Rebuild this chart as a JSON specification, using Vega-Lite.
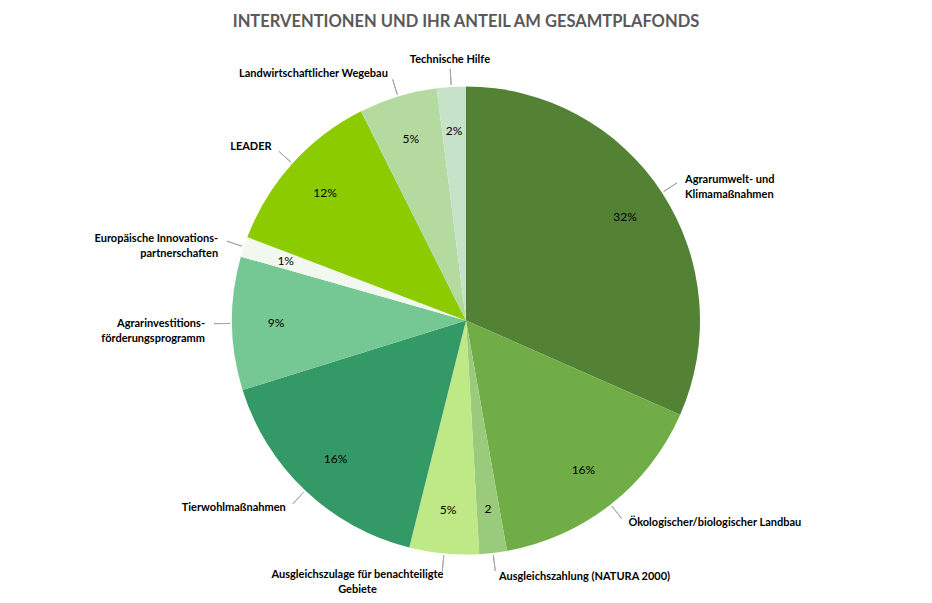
{
  "$schema": "https://vega.github.io/schema/vega-lite/v6.json",
  "width": 932,
  "height": 603,
  "autosize": {"type": "fit", "contains": "padding"},
  "padding": {"top": 13, "bottom": 0, "left": 0, "right": 0},
  "background": "white",
  "title": {
    "text": "INTERVENTIONEN UND IHR ANTEIL AM GESAMTPLAFONDS",
    "font": "Lato",
    "fontSize": 16.5,
    "fontWeight": "bold",
    "color": "#595959",
    "anchor": "middle",
    "offset": 8
  },
  "data": {
    "values": [
      {"Nr": 1, "Intervention": "Agrarumwelt- und Klimamaßnahmen", "Name": "Agrarumwelt- und\nKlimamaßnahmen", "Anteil": 31.6, "Label": "32%"},
      {"Nr": 2, "Intervention": "Ökologischer/biologischer Landbau", "Name": "Ökologischer/biologischer Landbau", "Anteil": 15.6, "Label": "16%"},
      {"Nr": 3, "Intervention": "Ausgleichszahlung (NATURA 2000)", "Name": "Ausgleichszahlung  (NATURA 2000)", "Anteil": 1.9, "Label": "2"},
      {"Nr": 4, "Intervention": "Ausgleichszulage für benachteiligte Gebiete", "Name": "Ausgleichszulage für benachteiligte\nGebiete", "Anteil": 4.8, "Label": "5%"},
      {"Nr": 5, "Intervention": "Tierwohlmaßnahmen", "Name": "Tierwohlmaßnahmen", "Anteil": 16.3, "Label": "16%"},
      {"Nr": 6, "Intervention": "Agrarinvestitionsförderungsprogramm", "Name": "Agrarinvestitions-\nförderungsprogramm", "Anteil": 9.2, "Label": "9%"},
      {"Nr": 7, "Intervention": "Europäische Innovationspartnerschaften", "Name": "Europäische Innovations-\npartnerschaften", "Anteil": 1.4, "Label": "1%"},
      {"Nr": 8, "Intervention": "LEADER", "Name": "LEADER", "Anteil": 11.8, "Label": "12%"},
      {"Nr": 9, "Intervention": "Landwirtschaftlicher Wegebau", "Name": "Landwirtschaftlicher Wegebau", "Anteil": 5.4, "Label": "5%"},
      {"Nr": 10, "Intervention": "Technische Hilfe", "Name": "Technische Hilfe", "Anteil": 2.0, "Label": "2%"}
    ]
  },
  "encoding": {
    "theta": {"field": "Anteil", "type": "quantitative", "stack": true},
    "order": {"field": "Nr", "type": "quantitative"}
  },
  "layer": [
    {
      "mark": {"type": "arc", "outerRadius": 234},
      "encoding": {
        "color": {
          "field": "Intervention",
          "type": "nominal",
          "legend": null,
          "scale": {
            "domain": [
              "Agrarumwelt- und Klimamaßnahmen",
              "Ökologischer/biologischer Landbau",
              "Ausgleichszahlung (NATURA 2000)",
              "Ausgleichszulage für benachteiligte Gebiete",
              "Tierwohlmaßnahmen",
              "Agrarinvestitionsförderungsprogramm",
              "Europäische Innovationspartnerschaften",
              "LEADER",
              "Landwirtschaftlicher Wegebau",
              "Technische Hilfe"
            ],
            "range": [
              "#548235",
              "#70ad47",
              "#9acb7c",
              "#bfe886",
              "#339966",
              "#75c794",
              "#f2f8f0",
              "#8bcb00",
              "#b5daa0",
              "#c6e2c8"
            ]
          }
        }
      }
    },
    {
      "mark": {
        "type": "arc",
        "innerRadius": 236,
        "outerRadius": 252,
        "padAngle": 1.4,
        "filled": false,
        "stroke": "#a6a6a6",
        "strokeWidth": 1
      },
      "encoding": {"detail": {"field": "Intervention", "type": "nominal"}}
    },
    {
      "mark": {"type": "text", "radius": 190, "font": "Lato", "fontSize": 12, "color": "#000000"},
      "encoding": {
        "detail": {"field": "Intervention", "type": "nominal"},
        "text": {"field": "Label", "type": "nominal"}
      }
    },
    {
      "mark": {"type": "text", "radius": 258, "align": "left", "baseline": "middle", "dx": 3, "lineBreak": "\n", "lineHeight": 15, "font": "Lato", "fontSize": 11, "fontWeight": "bold", "color": "#000000"},
      "encoding": {
        "detail": {"field": "Intervention", "type": "nominal"},
        "text": {
          "condition": {"test": "datum.Nr <= 3", "field": "Name"},
          "value": ""
        }
      }
    },
    {
      "mark": {"type": "text", "radius": 258, "align": "right", "baseline": "middle", "dx": -3, "lineBreak": "\n", "lineHeight": 15, "font": "Lato", "fontSize": 11, "fontWeight": "bold", "color": "#000000"},
      "encoding": {
        "detail": {"field": "Intervention", "type": "nominal"},
        "text": {
          "condition": {"test": "datum.Nr >= 5 && datum.Nr <= 9", "field": "Name"},
          "value": ""
        }
      }
    },
    {
      "mark": {"type": "text", "radius": 250, "align": "center", "baseline": "top", "dx": -85, "lineBreak": "\n", "lineHeight": 15, "font": "Lato", "fontSize": 11, "fontWeight": "bold", "color": "#000000"},
      "encoding": {
        "detail": {"field": "Intervention", "type": "nominal"},
        "text": {
          "condition": {"test": "datum.Nr == 4", "field": "Name"},
          "value": ""
        }
      }
    },
    {
      "mark": {"type": "text", "radius": 256, "align": "center", "baseline": "bottom", "font": "Lato", "fontSize": 11, "fontWeight": "bold", "color": "#000000"},
      "encoding": {
        "detail": {"field": "Intervention", "type": "nominal"},
        "text": {
          "condition": {"test": "datum.Nr == 10", "field": "Name"},
          "value": ""
        }
      }
    }
  ],
  "config": {"view": {"stroke": null}}
}
